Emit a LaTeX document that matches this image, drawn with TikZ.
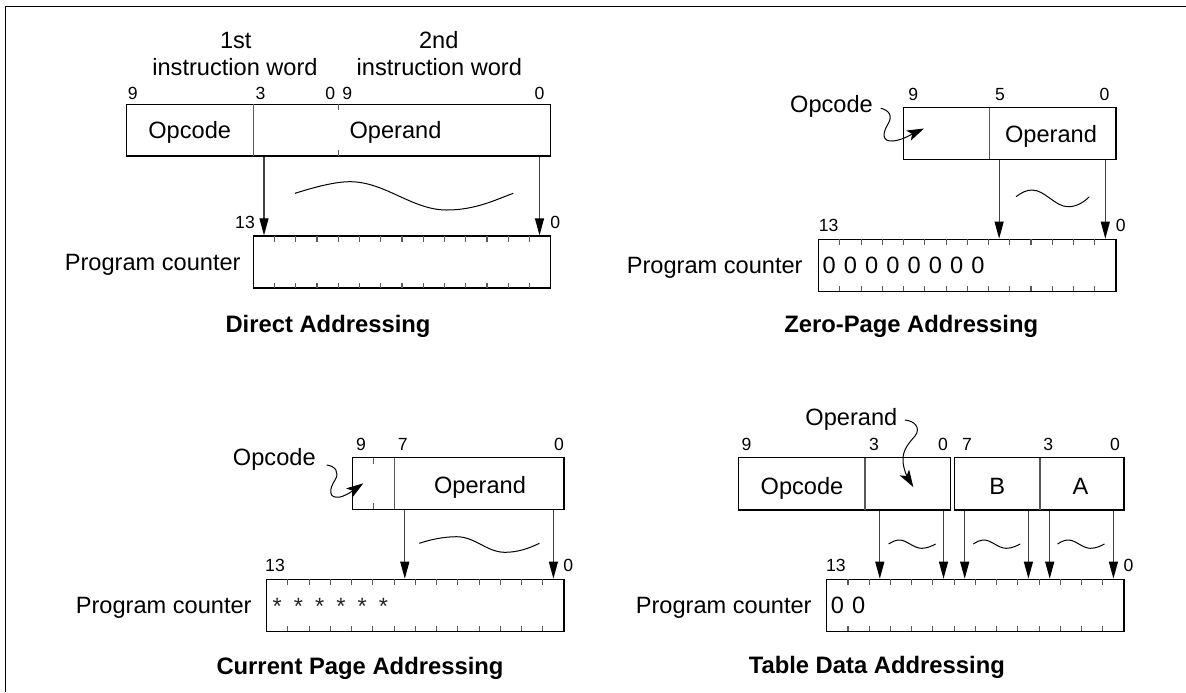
\documentclass[tikz,border=0pt]{standalone}
\usepackage{fontspec}
\setmainfont{Liberation Sans}
\usetikzlibrary{arrows.meta,fit}
\tikzset{
 box/.style={draw=black, line width=0.65pt, inner sep=0pt},
 div/.style={draw=black!65, line width=0.55pt},
 tk/.style={draw=black!65, line width=0.55pt},
 arr/.style={draw=black!75, line width=0.55pt, -{Triangle[length=8.5pt,width=4.5pt,color=black]}},
 sq/.style={draw=black, line width=0.5pt, -{Stealth[length=8.5pt,width=5.5pt,inset=2pt]}},
 wv/.style={draw=black, line width=0.5pt},
 txt/.style={inner sep=0pt, anchor=base, font=\fontsize{11.8}{13}\selectfont},
 num/.style={inner sep=0pt, anchor=base, font=\fontsize{8.8}{10}\selectfont},
 ttl/.style={inner sep=0pt, anchor=base, font=\fontsize{11.9}{13}\selectfont\bfseries},
 smallwave/.pic={\draw[wv] (0,0) .. controls (4,-2.5) and (7,-4) .. (11,-4) .. controls (18,-4) and (25,4.3) .. (33,4.3) .. controls (39,4.3) and (44,1.5) .. (47,0);}
}
\newcommand\pcbox[3]{%
 \node[box, fit={(#2,#3)({#2+297.4},{#3+52})}] (#1) {};
 \foreach \i in {1,...,13} {\draw[tk] ({#2+\i*21.24},#3) -- ++(0,5.5); \draw[tk] ({#2+\i*21.24},{#3+52}) -- ++(0,-5.5);}
}
\begin{document}
\begin{tikzpicture}[x=0.5pt,y=-0.5pt]
\useasboundingbox (0,0) rectangle (1186,692);
\draw[line width=0.65pt] (5.3,692) -- (5.3,6.7) -- (1186,6.7);

% ---------- Direct Addressing ----------
\node[box, fit={(126.7,104.3)(550.7,156)}] (ib1) {};
\draw[div] (253.3,104.3) -- (253.3,156);
\draw[tk] (338.5,104.3) -- ++(0,6);
\draw[tk] (338.5,156) -- ++(0,-6);
\node[txt] (q1a) at (235.8,48.3) {1st};
\node[txt] (q1b) at (235,75) {instruction word};
\node[txt] (q1c) at (438.8,48.3) {2nd};
\node[txt] (q1d) at (439.3,75) {instruction word};
\node[num] (q1n1) at (132.8,99.3) {9};
\node[num] (q1n2) at (260.5,99.3) {3};
\node[num] (q1n3) at (330.2,99.3) {0};
\node[num] (q1n4) at (347.2,99.3) {9};
\node[num] (q1n5) at (539.5,99.3) {0};
\node[txt] (q1op) at (189.7,138.3) {Opcode};
\node[txt] (q1or) at (395.5,138.3) {Operand};
\pcbox{pc1}{253.3}{236}
\node[num] (q1n6) at (245,228.3) {13};
\node[num] (q1n7) at (555.3,228.3) {0};
\node[txt, anchor=base east] (q1pc) at (241,270.2) {Program counter};
\coordinate (q1x1) at (264,0);
\coordinate (q1x2) at (539.5,0);
\draw[arr] (ib1.south -| q1x1) -- (pc1.north -| q1x1);
\draw[arr] (ib1.south -| q1x2) -- (pc1.north -| q1x2);
\draw[wv] (295,193.3) .. controls (315,187) and (335,181.7) .. (350,181.7) .. controls (385,181.7) and (412,210) .. (446.7,210) .. controls (475,210) and (495,200) .. (513.3,193.3);
\node[ttl] (q1t) at (328,332.7) {Direct Addressing};

% ---------- Zero-Page Addressing ----------
\node[box, fit={(903.6,107.7)(1116.1,159.3)}] (ib2) {};
\draw[div] (989.3,107.7) -- (989.3,159.3);
\node[num] (q2n1) at (913.2,100.7) {9};
\node[num] (q2n2) at (1000,100.7) {5};
\node[num] (q2n3) at (1104.6,100.7) {0};
\node[txt] (q2or) at (1051,142.5) {Operand};
\node[txt] (q2op) at (831.5,112) {Opcode};
\draw[sq] (880.7,108.3) .. controls (889,110) and (893,116) .. (888,124) .. controls (883,132) and (881,142) .. (893,141) .. controls (903,140) and (912,134) .. (924,128.5);
\pcbox{pc2}{818.6}{239.3}
\node[num] (q2n4) at (828.6,231.7) {13};
\node[num] (q2n5) at (1120.7,231.7) {0};
\foreach \k in {0,...,7} \node[txt] (q2z\k) at ({818.6+10.62+\k*21.24},273.4) {0};
\node[txt, anchor=base east] (q2pc) at (803,273.4) {Program counter};
\coordinate (q2x1) at (999.1,0);
\coordinate (q2x2) at (1105.3,0);
\draw[arr] (ib2.south -| q2x1) -- (pc2.north -| q2x1);
\draw[arr] (ib2.south -| q2x2) -- (pc2.north -| q2x2);
\draw[wv] (1016,196.7) .. controls (1021,193) and (1026,190) .. (1032,190) .. controls (1045,190) and (1055,206.7) .. (1068,206.7) .. controls (1077,206.7) and (1084,202) .. (1089.3,196.7);
\node[ttl] (q2t) at (911.2,332) {Zero-Page Addressing};

% ---------- Current Page Addressing ----------
\node[box, fit={(352.3,457.7)(564,509.3)}] (ib3) {};
\draw[div] (394.3,457.7) -- (394.3,509.3);
\draw[tk] (373.3,457.7) -- ++(0,6);
\draw[tk] (373.3,509.3) -- ++(0,-6);
\node[num] (q3n1) at (361,450) {9};
\node[num] (q3n2) at (402.7,450) {7};
\node[num] (q3n3) at (559,450) {0};
\node[txt] (q3or) at (480,493) {Operand};
\node[txt] (q3op) at (274.3,465) {Opcode};
\draw[sq] (326.7,465) .. controls (335,466) and (340,472) .. (335,480) .. controls (329,489) and (328,499) .. (340,497) .. controls (348,495) and (355,489) .. (363.3,483.3);
\pcbox{pc3}{266.7}{579.3}
\node[num] (q3n4) at (275,571.7) {13};
\node[num] (q3n5) at (568.3,571.7) {0};
\foreach \k in {0,...,5} \node[txt, text=black!85] (q3s\k) at ({266.7+10.62+\k*21.24},614) {*};
\node[txt, anchor=base east] (q3pc) at (252,613.4) {Program counter};
\coordinate (q3x1) at (404.8,0);
\coordinate (q3x2) at (553.4,0);
\draw[arr] (ib3.south -| q3x1) -- (pc3.north -| q3x1);
\draw[arr] (ib3.south -| q3x2) -- (pc3.north -| q3x2);
\draw[wv] (419.3,543.3) .. controls (432,539) and (445,536.7) .. (456.7,536.7) .. controls (475,536.7) and (487,552.3) .. (505,552.3) .. controls (518,552.3) and (530,548) .. (539.3,543.3);
\node[ttl] (q3t) at (360,674) {Current Page Addressing};

% ---------- Table Data Addressing ----------
\node[box, fit={(738.2,457.7)(950.7,510)}] (ib4a) {};
\draw[div] (865,457.7) -- (865,510);
\node[box, fit={(954.3,457.7)(1123.9,510)}] (ib4b) {};
\draw[div] (1040,457.7) -- (1040,510);
\node[num] (q4n1) at (746.4,450) {9};
\node[num] (q4n2) at (873.9,450) {3};
\node[num] (q4n3) at (942.9,450) {0};
\node[num] (q4n4) at (967.1,450) {7};
\node[num] (q4n5) at (1048.3,450) {3};
\node[num] (q4n6) at (1115,450) {0};
\node[txt] (q4op) at (802,494) {Opcode};
\node[txt] (q4b) at (997.2,494) {B};
\node[txt] (q4a) at (1080.5,494) {A};
\node[txt] (q4or) at (851.4,425) {Operand};
\draw[sq] (905,420) .. controls (915,421) and (921,428) .. (915,436) .. controls (909,443) and (902,450) .. (903,462) .. controls (904,472) and (909,480) .. (913.3,487);
\pcbox{pc4}{826.7}{579.3}
\node[num] (q4n7) at (835.8,571.7) {13};
\node[num] (q4n8) at (1128.6,571.7) {0};
\node[txt] (q4z0) at (837.3,613.4) {0};
\node[txt] (q4z1) at (858.6,613.4) {0};
\node[txt, anchor=base east] (q4pc) at (812,613.4) {Program counter};
\coordinate (q4x1) at (879.8,0);
\coordinate (q4x2) at (943.5,0);
\coordinate (q4x3) at (964.7,0);
\coordinate (q4x4) at (1028.4,0);
\coordinate (q4x5) at (1049.7,0);
\coordinate (q4x6) at (1113.4,0);
\draw[arr] (ib4a.south -| q4x1) -- (pc4.north -| q4x1);
\draw[arr] (ib4a.south -| q4x2) -- (pc4.north -| q4x2);
\draw[arr] (ib4b.south -| q4x3) -- (pc4.north -| q4x3);
\draw[arr] (ib4b.south -| q4x4) -- (pc4.north -| q4x4);
\draw[arr] (ib4b.south -| q4x5) -- (pc4.north -| q4x5);
\draw[arr] (ib4b.south -| q4x6) -- (pc4.north -| q4x6);
\pic (w1) at (888.6,544) {smallwave};
\pic (w2) at (973.2,544) {smallwave};
\pic (w3) at (1057.5,544) {smallwave};
\node[ttl] (q4t) at (876.8,673.3) {Table Data Addressing};
\end{tikzpicture}
\end{document}
